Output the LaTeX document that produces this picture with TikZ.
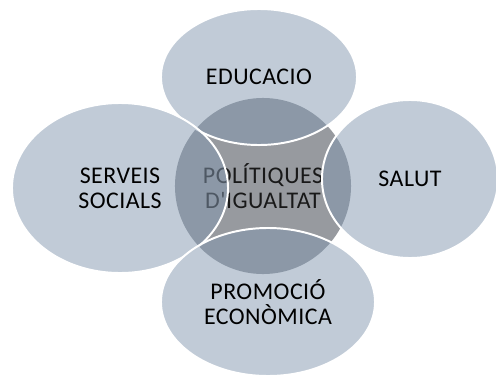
\documentclass[tikz,border=0pt]{standalone}
\usepackage{fontspec}
\setmainfont{Carlito}[LetterSpace=2,Ligatures=TeXOff]
\usetikzlibrary{shapes.geometric}

\definecolor{petal}{RGB}{131,151,175}
\definecolor{coregray}{RGB}{151,154,159}

\begin{document}
\begin{tikzpicture}[x=0.025cm,y=-0.025cm,
  txt/.style={align=center,font=\fontsize{17}{18}\selectfont},
  core/.style={circle,fill=coregray,inner sep=0pt,minimum size=4.4cm,txt,text=black!90},
  petalnode/.style={ellipse,fill=petal,fill opacity=0.5,text opacity=1,draw=white,line width=1.4pt,inner sep=0pt,txt}]
  \useasboundingbox (0,0) rectangle (496,376);

  \node[core] (pol) at (263,186) {POLÍTIQUES\\D'IGUALTAT};

  \node[petalnode,minimum width=4.9cm,minimum height=3.4cm]   (edu) at (259,77)  {EDUCACIO};
  \node[petalnode,minimum width=5.4cm,minimum height=4.25cm]  (ss)  at (120,188) {SERVEIS\\SOCIALS};
  \node[petalnode,minimum width=4.4cm,minimum height=3.95cm]  (sal) at (410,179) {SALUT};
  \node[petalnode,minimum width=5.35cm,minimum height=3.7cm]  (pro) at (268,302) {PROMOCIÓ\\ECONÒMICA};
\end{tikzpicture}
\end{document}
